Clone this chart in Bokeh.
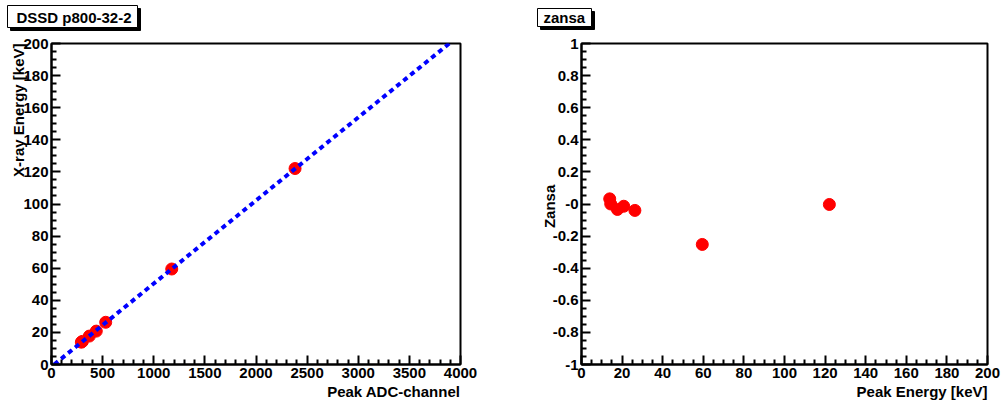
import numpy as np
from bokeh.plotting import figure
from bokeh.layouts import row, column
from bokeh.models import Label, Range1d, FixedTicker
from bokeh.core.properties import value
from bokeh.embed import file_html
from bokeh.resources import INLINE

# ---- data ----
peak_channels = [292, 302, 370, 438, 530, 1176, 2382]
xray_energy = [13.9, 14.4, 17.7, 20.8, 26.3, 59.5, 122.1]
zansa = [0.032, 0.0, -0.034, -0.014, -0.040, -0.252, -0.003]
fit_ch = [26, 3890]
fit_e = [0.0, 200.0]

left_xticks = [0, 500, 1000, 1500, 2000, 2500, 3000, 3500, 4000]
left_yticks = [0, 20, 40, 60, 80, 100, 120, 140, 160, 180, 200]
right_xticks = [0, 20, 40, 60, 80, 100, 120, 140, 160, 180, 200]
right_yticks = [-1.0, -0.8, -0.6, -0.4, -0.2, 0.0, 0.2, 0.4, 0.6, 0.8, 1.0]
right_ylabels = ["-1", "-0.8", "-0.6", "-0.4", "-0.2", "-0", "0.2", "0.4", "0.6", "0.8", "1"]

pad_titles = ["DSSD p800-32-2", "zansa"]

FONT = "Liberation Sans"
STRIP_H = 35


def minor(ticks, ndiv):
    out = []
    for a, b in zip(ticks[:-1], ticks[1:]):
        step = (b - a) / ndiv
        out += [a + step * k for k in range(1, ndiv)]
    return out


def style_axis(ax, ticks, ndiv, overrides=None):
    ax.ticker = FixedTicker(ticks=ticks, minor_ticks=minor(ticks, ndiv))
    ax.axis_line_color = "black"
    ax.axis_line_width = 2
    ax.major_tick_in = 9
    ax.major_tick_out = 0
    ax.minor_tick_in = 5
    ax.minor_tick_out = 0
    ax.major_tick_line_width = 2
    ax.minor_tick_line_width = 2
    ax.major_tick_line_color = "black"
    ax.minor_tick_line_color = "black"
    ax.major_label_text_font = FONT
    ax.major_label_text_font_style = "bold"
    ax.major_label_text_font_size = "15px"
    ax.major_label_text_color = "black"
    ax.major_label_standoff = 3
    if overrides:
        ax.major_label_overrides = overrides


def make_fig(width, bl, br, xr, yr):
    p = figure(width=width, height=402 - STRIP_H, output_backend="svg", toolbar_location=None,
               x_range=Range1d(*xr), y_range=Range1d(*yr),
               min_border_left=bl, min_border_right=br,
               min_border_top=43 - STRIP_H, min_border_bottom=38)
    p.xgrid.visible = False
    p.ygrid.visible = False
    p.outline_line_color = "black"
    p.outline_line_width = 2
    p.background_fill_color = "white"
    p.border_fill_color = "white"
    return p


def axis_title(p, text, x, y, align, side, angle=0.0):
    p.add_layout(Label(x=x, y=y, text=text, text_font=FONT, text_font_style="bold",
                       text_font_size="15px", text_color="black", text_align=align,
                       text_baseline="middle", angle=angle), side)


# ---- title strip (pad title boxes with shadow) ----
strip = figure(width=1001, height=STRIP_H, output_backend="svg", toolbar_location=None,
               x_range=Range1d(0, 1001), y_range=Range1d(STRIP_H, 0),
               x_axis_type=None, y_axis_type=None,
               min_border_left=0, min_border_right=0, min_border_top=0, min_border_bottom=0)
strip.outline_line_color = None
strip.xgrid.visible = False
strip.ygrid.visible = False
strip.background_fill_color = "white"
strip.border_fill_color = "white"

box_left = [7, 537]
box_right = [137, 591]
box_top = [5, 8]
box_bottom = [27, 26]
text_x = [16, 543]
text_y = [16.5, 17]
shadow = 3
strip.quad(left=[v + shadow for v in box_left], right=[v + shadow for v in box_right],
           top=[v + shadow for v in box_top], bottom=[v + shadow for v in box_bottom],
           fill_color="black", line_color="black")
strip.quad(left=box_left, right=box_right, top=box_top, bottom=box_bottom,
           fill_color="white", line_color="black", line_width=1)
strip.text(x=text_x, y=text_y, text=pad_titles, text_font=value(FONT),
           text_font_style="bold", text_font_size="15px", text_color="black",
           text_align="left", text_baseline="middle")

# ---- left panel ----
p1 = make_fig(500, 51, 40, (0, 4000), (0, 200))
style_axis(p1.xaxis[0], left_xticks, 5)
style_axis(p1.yaxis[0], left_yticks, 4)
p1.scatter(peak_channels, xray_energy, size=12, color="red")
p1.line(fit_ch, fit_e, line_color="blue", line_width=4, line_dash="5 4")
axis_title(p1, "Peak ADC-channel", 4000, -17.0, "right", "below")
axis_title(p1, "X-ray Energy [keV]", -320, 200, "right", "left", angle=np.pi / 2)

# ---- right panel ----
p2 = make_fig(501, 81, 14, (0, 200), (-1, 1))
style_axis(p2.xaxis[0], right_xticks, 4)
style_axis(p2.yaxis[0], right_yticks, 4,
           overrides={t: s for t, s in zip(right_yticks, right_ylabels)})
p2.scatter(xray_energy, zansa, size=12, color="red")
axis_title(p2, "Peak Energy [keV]", 200, -1.168, "right", "below")
axis_title(p2, "Zansa", -15.8, -0.015, "center", "left", angle=np.pi / 2)

layout = column(strip, row(p1, p2))
open("out.html", "w").write(file_html(layout, INLINE))
